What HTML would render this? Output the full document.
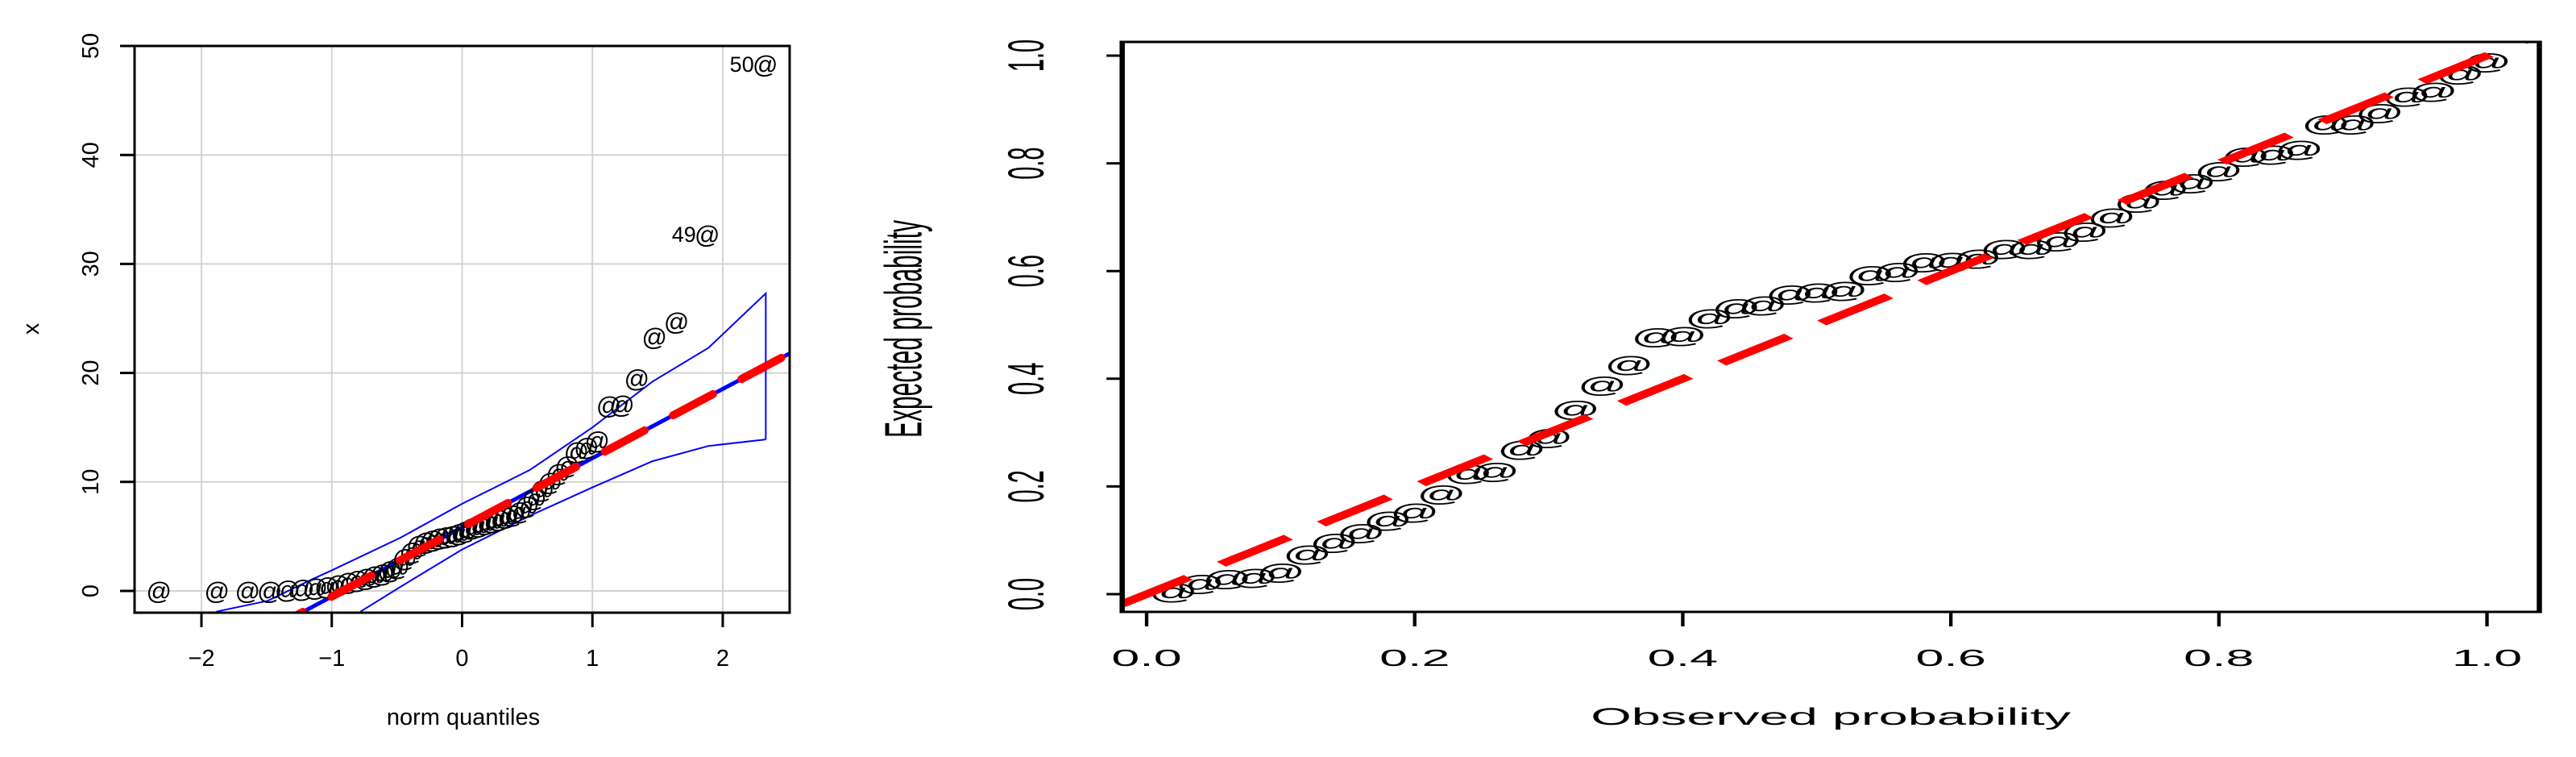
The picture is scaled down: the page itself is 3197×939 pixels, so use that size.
<!DOCTYPE html>
<html><head><meta charset="utf-8">
<style>
html,body{margin:0;padding:0;background:#fff;}
svg{position:absolute;top:0;left:0;}
text{font-family:"Liberation Sans",Arial,sans-serif;fill:#000;}
</style></head>
<body>
<svg id="root" width="3197" height="939">
  <defs>
    <clipPath id="clipL"><rect x="167" y="57" width="813" height="703"/></clipPath>
  </defs>
  <g id="left"></g>
  <svg id="right" x="1031" y="0" width="2166" height="939" viewBox="0 0 1000 939" preserveAspectRatio="none">
    <defs>
      <clipPath id="clipR"><rect x="167" y="52" width="812" height="707"/></clipPath>
    </defs>
    <g id="rg"></g>
  </svg>
</svg>
<script>
// ---------- Left QQ plot data ----------
const qqTheo = [-2.326,-1.881,-1.645,-1.476,-1.341,-1.227,-1.126,-1.036,-0.954,-0.878,-0.806,-0.739,-0.674,-0.613,-0.553,-0.496,-0.440,-0.385,-0.332,-0.279,-0.228,-0.176,-0.126,-0.075,-0.025,0.025,0.075,0.126,0.176,0.228,0.279,0.332,0.385,0.440,0.496,0.553,0.613,0.674,0.739,0.806,0.878,0.954,1.036,1.126,1.227,1.341,1.476,1.645,1.881,2.326];
const qqSample = [0,0,0,0,0.1,0.2,0.3,0.4,0.6,0.8,1.0,1.2,1.4,1.6,1.9,2.2,3.0,3.6,4.2,4.5,4.7,4.9,5.0,5.1,5.3,5.5,5.8,6.0,6.2,6.4,6.6,6.8,7.0,7.3,7.8,8.5,9.3,10.0,10.8,11.5,12.8,13.2,13.8,17.0,17.1,19.5,23.3,24.7,32.7,48.3];
const qqLabelIdx = [48,49];
const qqLabels = ["49","50"];
const envUpperX = [-1.886,-1.49,-1.18,-0.98,-0.47,0.0,0.52,1.0,1.46,1.89,2.33];
const envUpperY = [-1.9,-0.9,0.9,2.0,4.9,8.0,11.1,15.0,19.2,22.3,27.3];
const envLowerX = [-0.78,-0.47,0.0,0.52,1.0,1.46,1.89,2.33];
const envLowerY = [-1.9,0.4,3.8,6.9,9.5,11.9,13.3,13.9];
const fitLine = [5.83, 6.35]; // intercept, slope
const qqXTicks = [-2,-1,0,1,2];
const qqYTicks = [0,10,20,30,40,50];

// ---------- Right PP plot data ----------
const ppObserved = [0.02,0.04,0.06,0.08,0.10,0.12,0.14,0.16,0.18,0.20,0.22,0.24,0.26,0.28,0.30,0.32,0.34,0.36,0.38,0.40,0.42,0.44,0.46,0.48,0.50,0.52,0.54,0.56,0.58,0.60,0.62,0.64,0.66,0.68,0.70,0.72,0.74,0.76,0.78,0.80,0.82,0.84,0.86,0.88,0.90,0.92,0.94,0.96,0.98,1.00];
const ppExpected = [0.004,0.02,0.029,0.031,0.041,0.074,0.096,0.114,0.137,0.152,0.186,0.224,0.228,0.269,0.291,0.343,0.388,0.426,0.478,0.48,0.513,0.532,0.537,0.557,0.561,0.564,0.593,0.599,0.617,0.618,0.624,0.642,0.642,0.656,0.674,0.7,0.728,0.752,0.764,0.786,0.813,0.817,0.826,0.873,0.873,0.894,0.925,0.934,0.966,0.988];
const ppTicks = [0,0.2,0.4,0.6,0.8,1.0];
const ppTickLabels = ["0.0","0.2","0.4","0.6","0.8","1.0"];

const NS = "http://www.w3.org/2000/svg";
function mk(parent, tag, attrs, txt) {
  const e = document.createElementNS(NS, tag);
  for (const k in attrs) e.setAttribute(k, attrs[k]);
  if (txt !== undefined) e.textContent = txt;
  parent.appendChild(e);
  return e;
}

// ===== Left =====
const L = document.getElementById('left');
const lx = v => 573.5 + 161.75 * v;
const ly = v => 733 - 13.52 * v;
const LB = {x0:167, x1:980, y0:57, y1:760};

qqXTicks.forEach(t => {
  const g = mk(L, 'line', {x1:lx(t), x2:lx(t), y1:LB.y0, y2:LB.y1, stroke:'#d3d3d3', 'stroke-width':2});
  
  
});
qqYTicks.forEach(t => {
  const g = mk(L, 'line', {x1:LB.x0, x2:LB.x1, y1:ly(t), y2:ly(t), stroke:'#d3d3d3', 'stroke-width':2});
  
  
});

const clipL = mk(L, 'g', {'clip-path':'url(#clipL)'});



const up = mk(clipL, 'polyline', {points: envUpperX.map((x,i)=>lx(x)+','+ly(envUpperY[i])).join(' ') + ' ' + lx(envLowerX[envLowerX.length-1])+','+ly(envLowerY[envLowerY.length-1]), fill:'none', stroke:'#0000ff', 'stroke-width':2});


const lo = mk(clipL, 'polyline', {points: envLowerX.map((x,i)=>lx(x)+','+ly(envLowerY[i])).join(' '), fill:'none', stroke:'#0000ff', 'stroke-width':2});



const fx0 = -2.6, fx1 = 2.6;
const bl = mk(clipL, 'line', {x1:lx(fx0), y1:ly(fitLine[0]+fitLine[1]*fx0), x2:lx(fx1), y2:ly(fitLine[0]+fitLine[1]*fx1), stroke:'#0000ff', 'stroke-width':5});



qqTheo.forEach((x,i) => {
  const p = mk(clipL, 'text', {x:lx(x), y:ly(qqSample[i]), 'font-size':31, 'text-anchor':'middle', 'dominant-baseline':'central'}, '@');
  
  
});
qqLabelIdx.forEach((idx,j) => {
  const t = mk(clipL, 'text', {x:lx(qqTheo[idx])-14, y:ly(qqSample[idx])+9, 'font-size':27, 'text-anchor':'end'}, qqLabels[j]);
  
  
});

const rx0 = -2.575, rx1 = 2.7;
const rl = mk(clipL, 'line', {x1:lx(rx0), y1:ly(fitLine[0]+fitLine[1]*rx0), x2:lx(rx1), y2:ly(fitLine[0]+fitLine[1]*rx1), stroke:'#ff0000', 'stroke-width':10, 'stroke-dasharray':'56 40', 'stroke-linecap':'round'});



const lbox = mk(L, 'rect', {x:LB.x0, y:LB.y0, width:LB.x1-LB.x0, height:LB.y1-LB.y0, fill:'none', stroke:'#000', 'stroke-width':3});



qqXTicks.forEach(t => {
  const tk = mk(L, 'line', {x1:lx(t), x2:lx(t), y1:LB.y1, y2:LB.y1+18, stroke:'#000', 'stroke-width':3});
  
  
  const lb = mk(L, 'text', {x:lx(t), y:826, 'font-size':29, 'text-anchor':'middle'}, t < 0 ? '\u2212' + Math.abs(t) : String(t));
  
  
});
qqYTicks.forEach(t => {
  const tk = mk(L, 'line', {x1:LB.x0-18, x2:LB.x0, y1:ly(t), y2:ly(t), stroke:'#000', 'stroke-width':3});
  
  
  const lb = mk(L, 'text', {x:122, y:ly(t), 'font-size':29, 'text-anchor':'middle', transform:'rotate(-90 122 '+ly(t)+')'}, String(t));
  
  
});
const lxt = mk(L, 'text', {x:575, y:899, 'font-size':29, 'text-anchor':'middle'}, 'norm quantiles');


const lyt = mk(L, 'text', {x:48, y:408, 'font-size':29, 'text-anchor':'middle', transform:'rotate(-90 48 408)'}, 'x');



// ===== Right =====
const R = document.getElementById('rg');
const rxs = v => 181 + 768 * v;
const rys = v => 737 - 668 * v;
const RB = {x0:167, x1:979, y0:52, y1:759};

const clipR = mk(R, 'g', {'clip-path':'url(#clipR)'});



ppObserved.forEach((x,i) => {
  const p = mk(clipR, 'text', {x:rxs(x), y:rys(ppExpected[i]), 'font-size':28, 'text-anchor':'middle', 'dominant-baseline':'central'}, '@');
  
  
});
const d0 = -0.019, d1 = 1.06;
const rr = mk(clipR, 'line', {x1:rxs(d0), y1:rys(d0), x2:rxs(d1), y2:rys(d1), stroke:'#ff0000', 'stroke-width':8, 'stroke-dasharray':'51 25'});



const rbox = mk(R, 'rect', {x:RB.x0, y:RB.y0, width:RB.x1-RB.x0, height:RB.y1-RB.y0, fill:'none', stroke:'#000', 'stroke-width':3});



ppTicks.forEach((t,i) => {
  const tk = mk(R, 'line', {x1:rxs(t), x2:rxs(t), y1:RB.y1, y2:RB.y1+18, stroke:'#000', 'stroke-width':2});
  
  
  const lb = mk(R, 'text', {x:rxs(t), y:826, 'font-size':29, 'text-anchor':'middle'}, ppTickLabels[i]);
  
  
  const ty = mk(R, 'line', {x1:RB.x0-9, x2:RB.x0, y1:rys(t), y2:rys(t), stroke:'#000', 'stroke-width':3});
  
  
  const ly2 = mk(R, 'text', {x:122, y:rys(t), 'font-size':29, 'text-anchor':'middle', transform:'rotate(-90 122 '+rys(t)+')'}, ppTickLabels[i]);
  
  
});
const rxt = mk(R, 'text', {x:573, y:899, 'font-size':30, 'text-anchor':'middle'}, 'Observed probability');


const ryt = mk(R, 'text', {x:52, y:408, 'font-size':30, 'text-anchor':'middle', transform:'rotate(-90 52 408)'}, 'Expected probability');


</script>
</body></html>
